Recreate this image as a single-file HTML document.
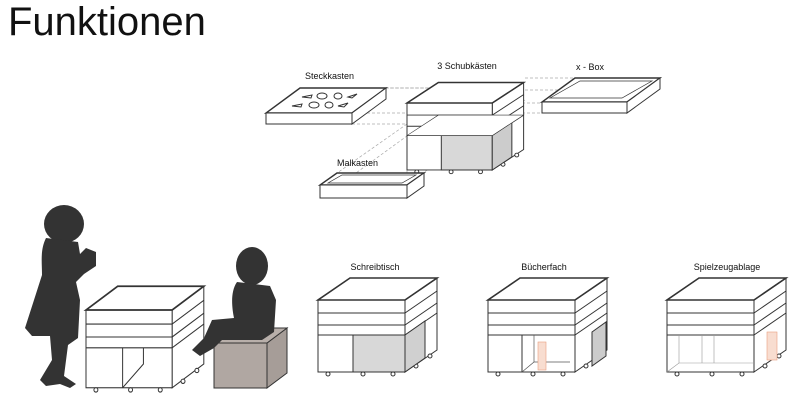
<!DOCTYPE html>
<html><head><meta charset="utf-8"><style>
html,body{margin:0;padding:0;background:#fff;width:800px;height:402px;overflow:hidden}
svg{display:block}
text{font-family:"Liberation Sans",sans-serif;fill:#111}
</style></head><body>
<svg width="800" height="402" viewBox="0 0 800 402" xmlns="http://www.w3.org/2000/svg">
<defs>
<g id="base" stroke="#333" stroke-width="1" fill="#fff">
  <polygon points="87,72 119,50 119,-22 87,0"/>
  <polygon points="0,0 87,0 119,-22 32,-22" />
  <rect x="0" y="0" width="87" height="72"/>
  <line x1="0" y1="13" x2="87" y2="13"/><line x1="0" y1="25" x2="87" y2="25"/><line x1="0" y1="35" x2="87" y2="35"/>
  <line x1="87" y1="13" x2="119" y2="-9"/><line x1="87" y1="25" x2="119" y2="3"/><line x1="87" y1="35" x2="119" y2="13"/>
  <circle cx="10" cy="74" r="2"/><circle cx="45" cy="74" r="2"/><circle cx="75" cy="74" r="2"/><circle cx="98" cy="66" r="2"/><circle cx="112" cy="56" r="2"/>
  <polygon points="87,0 119,-22 32,-22 0,0" fill="none" stroke-width="1.6"/>
</g>
</defs>

<text x="8" y="35" font-size="40">Funktionen</text>

<g stroke="#aaa" stroke-dasharray="3,2" stroke-width="0.7" fill="none">
  <line x1="386" y1="88" x2="440" y2="88"/><line x1="352" y1="113" x2="407" y2="113"/>
  <line x1="352" y1="124" x2="407" y2="124"/><line x1="300" y1="88" x2="440" y2="88"/>
  <line x1="525" y1="78" x2="575" y2="78"/><line x1="492" y1="103" x2="542" y2="103"/>
  <line x1="525" y1="90" x2="660" y2="90"/><line x1="492" y1="113" x2="542" y2="113"/>
  <line x1="407" y1="124" x2="320" y2="185"/><line x1="440" y1="112" x2="356" y2="173"/>
  <line x1="407" y1="135" x2="407" y2="185"/><line x1="525" y1="100" x2="423" y2="173"/>
</g>

<g transform="translate(407,103) scale(0.98,0.93)">
  <use href="#base"/>
  <rect x="35" y="35" width="52" height="37" fill="#d8d8d8" stroke="#333"/>
  <polygon points="87,35 107,21 107,58 87,72" fill="#ccc" stroke="#333"/>
  <polygon points="0,35 87,35 119,13 32,13" fill="#fff" stroke="#333" stroke-width="0.6"/>
</g>
<text x="467" y="69" font-size="9" text-anchor="middle">3 Schubkästen</text>

<g stroke="#333" fill="#fff">
  <polygon points="266,113 352,113 386,88 300,88" stroke-width="1.4"/>
  <polygon points="352,113 386,88 386,99 352,124"/>
  <rect x="266" y="113" width="86" height="11"/>
</g>
<g stroke="#333" fill="none" stroke-width="1">
  <ellipse cx="322" cy="96" rx="5" ry="3"/><ellipse cx="338" cy="96" rx="4" ry="3"/>
  <ellipse cx="314" cy="105" rx="5" ry="3"/><ellipse cx="329" cy="105" rx="4" ry="3"/>
  <polygon points="302,97 312,95 311,98"/><polygon points="348,97 357,94 352,98"/>
  <polygon points="292,106 302,104 301,107"/><polygon points="338,106 348,103 344,107"/>
</g>
<text x="305" y="79" font-size="9">Steckkasten</text>

<g stroke="#333" fill="#fff">
  <polygon points="542,102 627,102 660,78 575,78" stroke-width="1.4"/>
  <polygon points="550,98 622,98 652,81 580,81" fill="#fff" stroke-width="0.7"/>
  <polygon points="627,102 660,78 660,89 627,113"/>
  <rect x="542" y="102" width="85" height="11"/>
</g>
<text x="576" y="70" font-size="9">x - Box</text>

<g stroke="#333" fill="#fff">
  <polygon points="320,185 407,185 424,173 337,173" stroke-width="1.4"/>
  <polygon points="328,183 402,183 416,175 342,175" stroke-width="0.7"/>
  <polygon points="407,185 424,173 424,186 407,198"/>
  <rect x="320" y="185" width="87" height="13"/>
</g>
<text x="337" y="166" font-size="9">Malkasten</text>

<g transform="translate(318,300)">
  <use href="#base"/>
  <rect x="35" y="35" width="52" height="37" fill="#d8d8d8" stroke="#333"/>
  <polygon points="87,35 107,21 107,58 87,72" fill="#d0d0d0" stroke="#333"/>
</g>
<text x="375" y="270" font-size="9" text-anchor="middle">Schreibtisch</text>

<g transform="translate(488,300)">
  <use href="#base"/>
  <line x1="34" y1="35" x2="34" y2="72" stroke="#333"/>
  <polyline points="34,72 46,62 82,62" stroke="#555" fill="none" stroke-width="0.7"/>
  <line x1="46" y1="35" x2="46" y2="62" stroke="#555" stroke-width="0.7"/>
  <rect x="50" y="42" width="8" height="28" fill="#f8ddd0" stroke="#e9a080" stroke-width="0.6"/>
  <polygon points="104,32 118,22 118,56 104,66" fill="#ccc" stroke="#333"/>
</g>
<text x="544" y="270" font-size="9" text-anchor="middle">Bücherfach</text>

<g transform="translate(667,300)">
  <use href="#base"/>
  <g stroke="#999" stroke-width="0.6" fill="none">
    <line x1="12" y1="35" x2="12" y2="63"/><line x1="35" y1="35" x2="35" y2="63"/>
    <line x1="47" y1="35" x2="47" y2="63"/><polyline points="0,72 12,63 87,63"/>
  </g>
  <rect x="100" y="32" width="10" height="28" fill="#f8ddd0" stroke="#e9a080" stroke-width="0.6"/>
</g>
<text x="727" y="270" font-size="9" text-anchor="middle">Spielzeugablage</text>

<g transform="translate(86,310) scale(0.99,1.08)">
  <use href="#base"/>
  <line x1="37" y1="35" x2="37" y2="72" stroke="#333"/>
  <polyline points="37,72 58,50 58,35" fill="none" stroke="#333"/>
</g>

<g stroke="#333" fill="#b0a7a2">
  <rect x="214" y="343" width="53" height="45"/>
  <polygon points="267,343 287,328 287,373 267,388" fill="#a69d98"/>
  <polygon points="214,343 267,343 287,328 234,328" fill="#b8afaa"/>
</g>

<g fill="#333">
  <ellipse cx="64" cy="224" rx="20" ry="19"/>
  <path d="M46,238 C40,250 42,262 42,275 L34,300 L25,328 L32,336 L50,336 L52,360 L40,380 L46,386 L60,384 L70,388 L76,384 L64,376 L68,345 L78,338 L80,300 L76,282 L84,274 L96,266 L96,252 L86,248 L80,254 L78,242 Z"/>
  <ellipse cx="252" cy="266" rx="16" ry="19"/>
  <path d="M237,282 C230,292 232,308 234,318 L212,320 L204,338 L192,350 L200,356 L214,348 L222,340 L262,340 L274,332 L276,300 L270,286 Z"/>
</g>
</svg>
</body></html>
